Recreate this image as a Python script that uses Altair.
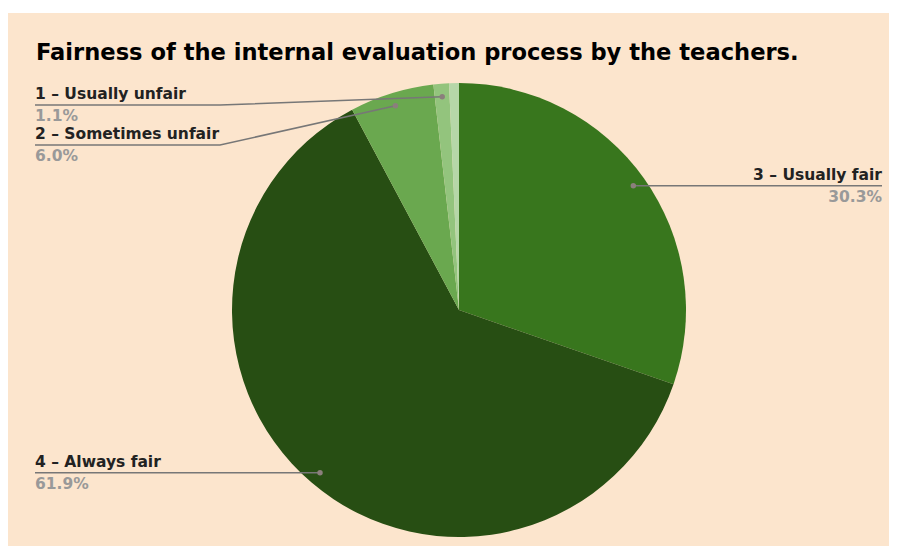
import math
import altair as alt
import pandas as pd

# ---- data ----
categories = ["3 – Usually fair", "4 – Always fair", "2 – Sometimes unfair",
              "1 – Usually unfair", "(unlabeled)"]
shares = [30.3, 61.9, 6.0, 1.1, 0.7]
percent_labels = ["30.3%", "61.9%", "6.0%", "1.1%", ""]
title_text = "Fairness of the internal evaluation process by the teachers."

# ---- style / layout ----
colors = ["#38761D", "#274E13", "#6AA84F", "#93C47D", "#B6D7A8"]
W, H = 881, 538
CX, CY, R = 451, 302, 227
DOT_R = 214
label_side = ["right", "left", "left", "left", None]
label_line_y = [None, None, 137, 97, None]   # None -> horizontal at dot height
ELBOW_X = 212
LEFT_X, RIGHT_X = 27, 874
BG = "#FCE5CD"

pie_df = pd.DataFrame({"category": categories, "share": shares,
                       "order": list(range(len(categories)))})

total = sum(shares)
cum = 0.0
line_rows, dot_rows, text_rows = [], [], []
for i, (cat, v) in enumerate(zip(categories, shares)):
    mid = (cum + v / 2) / total * 2 * math.pi
    cum += v
    if label_side[i] is None:
        continue
    dx = CX + DOT_R * math.sin(mid)
    dy = CY - DOT_R * math.cos(mid)
    ly = label_line_y[i] if label_line_y[i] is not None else dy
    end_x = RIGHT_X if label_side[i] == "right" else LEFT_X
    pts = [(dx, dy)]
    if label_line_y[i] is not None:
        pts.append((ELBOW_X, ly))
    pts.append((end_x, ly))
    for k, (px, py) in enumerate(pts):
        line_rows.append({"seg": cat, "k": k, "px": px, "py": py})
    dot_rows.append({"px": dx, "py": dy})
    text_rows.append({"tx": end_x, "ty": ly - 6, "txt": cat,
                      "side": label_side[i], "kind": "name"})
    text_rows.append({"tx": end_x, "ty": ly + 16, "txt": percent_labels[i],
                      "side": label_side[i], "kind": "pct"})

line_df = pd.DataFrame(line_rows)
dot_df = pd.DataFrame(dot_rows)
text_df = pd.DataFrame(text_rows)

bg = alt.Chart(pd.DataFrame({"a": [0]})).mark_rect(color=BG).encode(
    x=alt.value(0), x2=alt.value(W), y=alt.value(5), y2=alt.value(H))

pie = alt.Chart(pie_df).mark_arc(radius=R, x=CX, y=CY).encode(
    theta=alt.Theta("share:Q", stack=True),
    order=alt.Order("order:Q"),
    color=alt.Color("category:N", scale=alt.Scale(domain=categories, range=colors),
                    legend=None),
)

lines = alt.Chart(line_df).mark_line(color="#777777", strokeWidth=1.5).encode(
    x=alt.X("px:Q", scale=None), y=alt.Y("py:Q", scale=None),
    detail="seg:N", order="k:Q")

dots = alt.Chart(dot_df).mark_circle(color="#8B7F7C", size=30, opacity=1).encode(
    x=alt.X("px:Q", scale=None), y=alt.Y("py:Q", scale=None))

def label_layer(kind, side, color):
    d = text_df[(text_df["kind"] == kind) & (text_df["side"] == side)]
    return alt.Chart(d).mark_text(align=side, baseline="alphabetic", font="DejaVu Sans",
                                  fontWeight="bold", fontSize=15.5, color=color).encode(
        x=alt.X("tx:Q", scale=None), y=alt.Y("ty:Q", scale=None), text="txt:N")

labels = [label_layer("name", "left", "#222222"), label_layer("name", "right", "#222222"),
          label_layer("pct", "left", "#999999"), label_layer("pct", "right", "#999999")]

title = alt.Chart(pd.DataFrame({"t": [title_text]})).mark_text(
    align="left", baseline="alphabetic", font="DejaVu Sans", fontWeight="bold",
    fontSize=22.6, color="#000000").encode(x=alt.value(28), y=alt.value(52), text="t:N")

chart = alt.layer(bg, pie, lines, dots, *labels, title).properties(
    width=W, height=H, padding=0, autosize=alt.AutoSizeParams(type="none"),
    background="#FFFFFF"
).configure_view(stroke=None)

chart.save("out.html", embed_options={"renderer": "svg", "actions": False})
